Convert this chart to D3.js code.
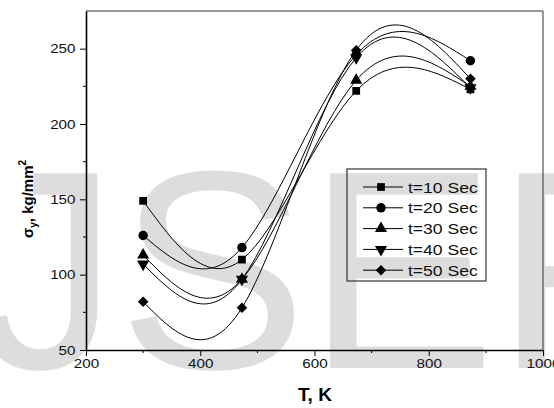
<!DOCTYPE html>
<html>
<head>
<meta charset="utf-8">
<script src="https://cdn.jsdelivr.net/npm/d3@7"></script>
<style>
  body { margin: 0; background: #fff; }
  svg { display: block; font-family: Arial, "Liberation Sans", sans-serif; }
</style>
</head>
<body>
<div id="chart"></div>
<script>
// temperatures (K) and yield stress per holding time
var temps = [300, 473, 673, 873];
var t10 = [149, 110, 222, 223];
var t20 = [126, 118, 246, 242];
var t30 = [113, 97, 229, 225];
var t40 = [107, 97, 244, 224];
var t50 = [82, 78, 249, 230];
var seriesNames = ["t=10 Sec", "t=20 Sec", "t=30 Sec", "t=40 Sec", "t=50 Sec"];
var seriesSymbols = ["square", "circle", "up", "down", "diamond"];
var xTicks = [200, 400, 600, 800, 1000];
var yTicks = [50, 100, 150, 200, 250];

var series = [t10, t20, t30, t40, t50];

var width = 554, height = 408;
var margin = { top: 11, right: 11, bottom: 58, left: 86 };
var w = width - margin.left - margin.right;
var h = height - margin.top - margin.bottom;
var stretch = "scale(1.17,1)";

var svg = d3.select("#chart").append("svg")
    .attr("width", width)
    .attr("height", height);

// watermark
svg.append("text")
    .attr("x", -102)
    .attr("y", 368)
    .attr("font-size", 283)
    .attr("fill", "#dddddd")
    .text("IJSER");

var g = svg.append("g")
    .attr("transform", "translate(" + margin.left + "," + margin.top + ")");

var x = d3.scaleLinear().domain([200, 1000]).range([0, w]);
var y = d3.scaleLinear().domain([50, 275]).range([h, 0]);

// frame top/right
g.append("path")
    .attr("d", "M0,0H" + w + "V" + h)
    .attr("fill", "none")
    .attr("stroke", "#333")
    .attr("stroke-width", 1);

// minor ticks
var xMinor = d3.range(300, 1000, 200);
var yMinor = d3.range(75, 275, 50);
g.selectAll(".xminor").data(xMinor).enter().append("line")
    .attr("x1", d => x(d)).attr("x2", d => x(d))
    .attr("y1", h).attr("y2", h + 3)
    .attr("stroke", "#000");
g.selectAll(".yminor").data(yMinor).enter().append("line")
    .attr("x1", 0).attr("x2", -3)
    .attr("y1", d => y(d)).attr("y2", d => y(d))
    .attr("stroke", "#000");

var xAxis = g.append("g")
    .attr("transform", "translate(0," + h + ")")
    .call(d3.axisBottom(x).tickValues(xTicks).tickFormat(d3.format("d"))
        .tickSize(6).tickPadding(3).tickSizeOuter(0));
var yAxis = g.append("g")
    .call(d3.axisLeft(y).tickValues(yTicks).tickFormat(d3.format("d"))
        .tickSize(6).tickPadding(3).tickSizeOuter(0));

[xAxis, yAxis].forEach(function (a) {
    a.select(".domain").attr("stroke-width", 1.6);
    a.selectAll("text").attr("font-size", 13).attr("fill", "#111")
        .attr("transform", stretch)
        .attr("font-family", "Arial, 'Liberation Sans', sans-serif");
});

// axis titles
svg.append("text")
    .attr("x", 315).attr("y", 401)
    .attr("text-anchor", "middle")
    .attr("font-size", 19).attr("font-weight", "bold")
    .text("T, K");

var yl = svg.append("text")
    .attr("transform", "translate(33,199) rotate(-90)")
    .attr("text-anchor", "middle")
    .attr("font-size", 15).attr("font-weight", "bold");
yl.append("tspan").text("\u03c3");
yl.append("tspan").attr("font-size", 10).attr("dy", 4).text("y");
yl.append("tspan").attr("dy", -4).text(", kg/mm");
yl.append("tspan").attr("font-size", 10).attr("dy", -7).text("2");

var line = d3.line()
    .x((d, i) => x(temps[i]))
    .y(d => y(d))
    .curve(d3.curveNatural);

function marker(sel, s) {
    if (s === "square") sel.attr("d", d3.symbol(d3.symbolSquare, 60)());
    else if (s === "circle") sel.attr("d", d3.symbol(d3.symbolCircle, 70)());
    else if (s === "diamond") sel.attr("d", d3.symbol(d3.symbolSquare, 56)());
    else sel.attr("d", d3.symbol(d3.symbolTriangle, 64)());
    return sel;
}
function markerRot(s) {
    if (s === "down") return " rotate(180)";
    if (s === "diamond") return " rotate(45)";
    return "";
}

series.forEach(function (vals, k) {
    var s = seriesSymbols[k];
    g.append("path")
        .datum(vals)
        .attr("d", line)
        .attr("fill", "none")
        .attr("stroke", "#000")
        .attr("stroke-width", 1);
    g.selectAll(".m" + k).data(vals).enter().append("path")
        .call(marker, s)
        .attr("transform", (d, i) => "translate(" + x(temps[i]) + "," + y(d) + ")" + markerRot(s))
        .attr("fill", "#000");
});

// legend
var lg = svg.append("g").attr("transform", "translate(347,169)");
lg.append("rect")
    .attr("width", 139).attr("height", 112)
    .attr("fill", "none")
    .attr("stroke", "#333").attr("stroke-width", 1.2);
seriesNames.forEach(function (name, k) {
    var s = seriesSymbols[k];
    var ry = 18 + k * 20.8;
    lg.append("line").attr("x1", 16).attr("x2", 56).attr("y1", ry).attr("y2", ry)
        .attr("stroke", "#000");
    lg.append("path")
        .call(marker, s)
        .attr("transform", "translate(34," + ry + ")" + markerRot(s))
        .attr("fill", "#000");
    lg.append("text")
        .attr("transform", "translate(61," + (ry + 5.5) + ") " + stretch)
        .attr("font-size", 15).attr("fill", "#111")
        .text(name);
});
</script>
</body>
</html>
